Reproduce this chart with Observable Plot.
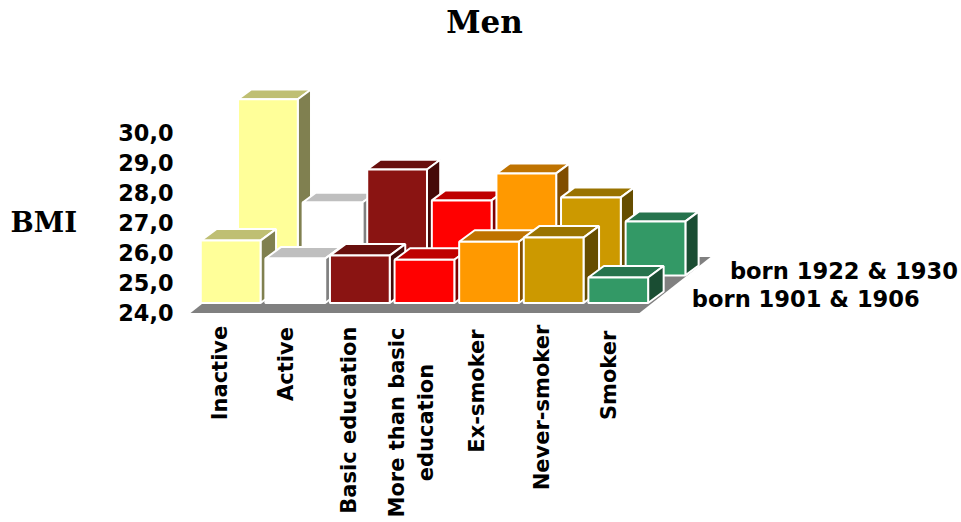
<!DOCTYPE html>
<html>
<head>
<meta charset="utf-8">
<title>Men</title>
<style>html,body{margin:0;padding:0;background:#fff}svg{display:block}</style>
<script src="https://cdn.jsdelivr.net/npm/d3@7"></script>
<script src="https://cdn.jsdelivr.net/npm/@observablehq/plot@0.6"></script>
</head>
<body>
<script>
// Mean BMI of men by activity, education and smoking status, two birth cohorts.
const categories = ["Inactive", "Active", "Basic education", "More than basic\neducation", "Ex-smoker", "Never-smoker", "Smoker"];
const bornEarly = [26.08, 25.48, 25.58, 25.44, 26.04, 26.18, 24.85];
const bornLate = [29.87, 26.43, 27.53, 26.5, 27.4, 26.6, 25.8];
const seriesNames = ["born 1901 & 1906", "born 1922 & 1930"];
const yTicks = [24, 25, 26, 27, 28, 29, 30];

// Front, top and side shades of each category's bar.
const frontColors = ["#ffff99", "#ffffff", "#8a1412", "#ff0000", "#ff9900", "#cc9900", "#339966"];
const topColors = ["#bfbf73", "#bfbfbf", "#680f0d", "#bf0000", "#bf7300", "#997300", "#26734d"];
const sideColors = ["#808050", "#808080", "#450a09", "#800000", "#804d00", "#664d00", "#1a4d33"];

// Oblique projection: depth runs up and to the right, measured in BMI units.
const W = 961, H = 522, unitX = 64.6, unitY = 30;
const originX = 190, originY = 312.5;
const skew = 1.35 * unitY / unitX;
const project = (u, v, d, s = skew) => ({x: u + d * s, y: v + d});

// The nearer row is drawn slightly deeper, as in a perspective view.
const barLeft = -0.05, barWidth = 0.925;
const rowDepth = [10 / unitY, 37.6 / unitY];
const rowThickness = [11.5 / unitY, 9.8 / unitY];

const faces = [];
const addFace = (id, fill, corners) =>
  corners.forEach((c) => faces.push({id, fill, ...c}));

[bornLate, bornEarly].forEach((values, r) => {
  const d = rowDepth[1 - r], t = rowThickness[1 - r];
  values.forEach((v, i) => {
    const a = i + barLeft, b = a + barWidth, key = `${r}-${i}`;
    addFace(`${key}-top`, topColors[i], [project(a, v, d), project(b, v, d), project(b, v, d + t), project(a, v, d + t)]);
    addFace(`${key}-side`, sideColors[i], [project(b, 24, d), project(b, v, d), project(b, v, d + t), project(b, 24, d + t)]);
    addFace(`${key}-front`, frontColors[i], [project(a, 24, d), project(b, 24, d), project(b, v, d), project(a, v, d)]);
  });
});

// Grey floor under both rows.
const floorDepth = 56 / unitY, floorSkew = 1.27 * unitY / unitX, floorEnd = 6.95;
const floor = [project(0, 24, 0, floorSkew), project(floorEnd, 24, 0, floorSkew), project(floorEnd, 24, floorDepth, floorSkew), project(0, 24, floorDepth, floorSkew)];

// Category labels read upward from below the floor, centred on their own length.
const labelX = [0.42, 1.44, 2.41, 3.38, 4.4, 5.41, 6.44];
const labelY = [22.0, 22.3, 20.43, 20.35, 21.4, 20.85, 21.92];
const labels = categories.map((text, i) => ({text, x: labelX[i], y: labelY[i]}));

const seriesLabels = [
  {text: seriesNames[0], x: 7.76, y: 24.45},
  {text: seriesNames[1], x: 8.35, y: 25.37}
];

const sans = "'DejaVu Sans', Verdana, sans-serif";
const serif = "'DejaVu Serif', serif";

const chart = Plot.plot({
  width: W,
  height: H,
  margin: 0,
  style: {fontFamily: sans, background: "#fff", color: "#000"},
  x: {domain: [-originX / unitX, (W - originX) / unitX], range: [0, W], axis: null},
  y: {domain: [24 - (H - originY) / unitY, 24 + originY / unitY], range: [H, 0], axis: null},
  color: {type: "identity"},
  marks: [
    Plot.line(floor, {x: "x", y: "y", fill: "#808080", stroke: "none", curve: "linear-closed"}),
    Plot.line(faces, {x: "x", y: "y", z: "id", fill: "fill", stroke: "#fff", strokeWidth: 2, strokeLinejoin: "miter", curve: "linear-closed"}),
    Plot.axisY({
      anchor: "left", ticks: yTicks, tickSize: 0, tickPadding: 0, label: null,
      tickFormat: (d) => d3.format(".1f")(d).replace(".", ","),
      dx: 173, dy: 1, fontSize: 22.4, fontWeight: "bold", fill: "#000", textAnchor: "end", lineAnchor: "middle"
    }),
    Plot.text(labels, {
      x: "x", y: "y", text: "text", rotate: -90, textAnchor: "middle",
      fontSize: 21, fontWeight: "bold", fill: "#000", lineHeight: 1.4
    }),
    Plot.text(seriesLabels, {
      x: "x", y: "y", text: "text", textAnchor: "start",
      fontSize: 22.6, fontWeight: "bold", fill: "#000"
    }),
    Plot.text(["BMI"], {
      frameAnchor: "top-left", dx: 10, dy: 212, textAnchor: "start",
      fontFamily: serif, fontSize: 27.5, fontWeight: "bold", fill: "#000"
    }),
    Plot.text(["Men"], {
      frameAnchor: "top-left", dx: 484, dy: 10, textAnchor: "middle",
      fontFamily: serif, fontSize: 31, fontWeight: "bold", fill: "#000"
    })
  ]
});
document.body.append(chart);
</script>
</body>
</html>
